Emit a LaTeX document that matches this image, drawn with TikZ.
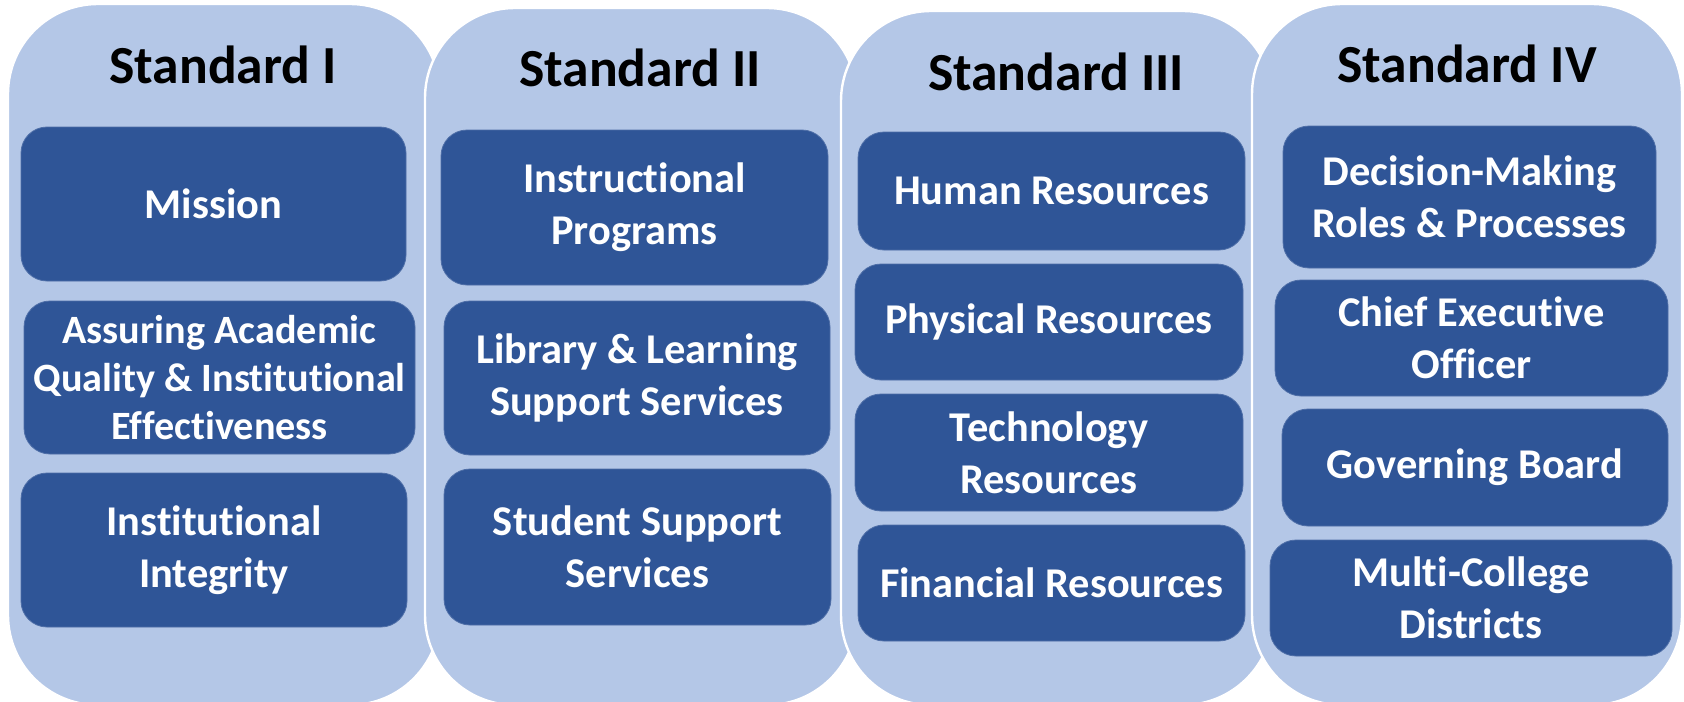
\documentclass[tikz,border=0pt]{standalone}
\usepackage{fontspec}
\setmainfont{Carlito}[Ligatures=NoCommon]
\usetikzlibrary{positioning}
\definecolor{stdlight}{HTML}{B4C7E7}
\definecolor{stddark}{HTML}{2F5597}
\tikzset{
  column/.style={fill=stdlight, draw=white, line width=1.2pt, rounded corners=45pt},
  heading/.style={font=\fontsize{26.8}{32}\selectfont\bfseries, text=black},
  item/.style={fill=stddark, draw=stddark!85!white, line width=0.4pt, rounded corners=13pt,
    text=white, align=center, inner sep=0pt,
    font=\fontsize{21.2}{26}\selectfont\bfseries},
  smallitem/.style={item, font=\fontsize{20.1}{24}\selectfont\bfseries}
}
\begin{document}
\begin{tikzpicture}[x=0.5pt, y=-0.5pt]
\useasboundingbox (0,0) rectangle (1684,701);
% Standard I
\path [column] (8,4) rectangle (440,705);
\node [heading] (t1) at (223,65) {Standard I};
\node [item, minimum width=192.5pt, minimum height=77pt] (mission) at (213.5,204) {Mission};
\node [smallitem, minimum width=195.5pt, minimum height=76.5pt] (quality) at (219.5,377.5) {Assuring Academic\\Quality \& Institutional\\Effectiveness};
\node [item, minimum width=193pt, minimum height=77pt] (integrity) at (214,550) {Institutional\\Integrity};
% Standard II
\path [column] (425,8) rectangle (857,705);
\node [heading] (t2) at (640,68) {Standard II};
\node [item, minimum width=193.5pt, minimum height=77.5pt] (instr) at (634.5,207.5) {Instructional\\Programs};
\node [item, minimum width=193pt, minimum height=77pt] (library) at (637,378) {Library \& Learning\\Support Services};
\node [item, minimum width=193.5pt, minimum height=78pt] (student) at (637.5,547) {Student Support\\Services};
% Standard III
\path [column] (841,11) rectangle (1273,705);
\node [heading] (t3) at (1056,72) {Standard III};
\node [item, minimum width=193.5pt, minimum height=59pt] (human) at (1051.5,191) {Human Resources};
\node [item, minimum width=194pt, minimum height=58pt] (physical) at (1049,322) {Physical Resources};
\node [item, minimum width=194pt, minimum height=58.5pt] (tech) at (1049,452.5) {Technology\\Resources};
\node [item, minimum width=193.5pt, minimum height=58pt] (financial) at (1051.5,583) {Financial Resources};
% Standard IV
\path [column] (1252,4) rectangle (1682,705);
\node [heading] (t4) at (1467,64) {Standard IV};
\node [item, minimum width=186.5pt, minimum height=71pt] (decision) at (1469.5,197) {Decision-Making\\Roles \& Processes};
\node [item, minimum width=196.5pt, minimum height=58pt] (ceo) at (1471.5,338) {Chief Executive\\Officer};
\node [item, minimum width=193pt, minimum height=58.5pt] (board) at (1475,467.5) {Governing Board};
\node [item, minimum width=201pt, minimum height=58pt] (districts) at (1471,598) {Multi-College\\Districts};
\end{tikzpicture}
\end{document}
